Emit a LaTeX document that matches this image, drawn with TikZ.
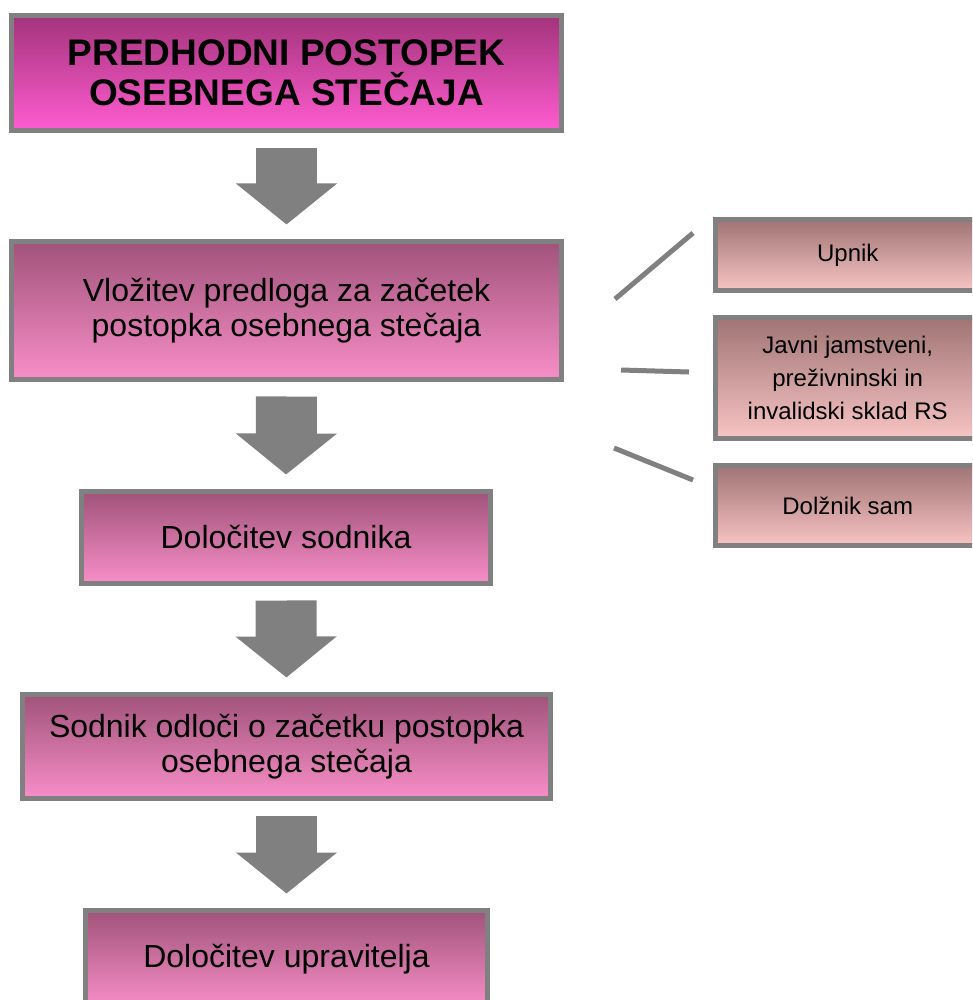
\documentclass[tikz,border=0pt]{standalone}
\usepackage{fontspec}
\setmainfont{Liberation Sans}
\usetikzlibrary{arrows.meta}
\definecolor{edgegray}{HTML}{808080}
\definecolor{titletop}{HTML}{A3337B}
\definecolor{titlebot}{HTML}{FF5CD0}
\definecolor{steptop}{HTML}{A0537A}
\definecolor{stepbot}{HTML}{F88EC8}
\definecolor{sidetop}{HTML}{A07474}
\definecolor{sidebot}{HTML}{F8C4C4}

\begin{document}
\begin{tikzpicture}[x=1pt,y=-1pt,
  framebox/.style={rectangle,draw=edgegray,line width=5pt,inner sep=0pt,align=center},
  titlebox/.style={framebox,top color=titletop,bottom color=titlebot,
    font=\bfseries\fontsize{37}{40}\selectfont},
  stepbox/.style={framebox,top color=steptop,bottom color=stepbot,
    font=\fontsize{32}{35}\selectfont},
  sidebox/.style={framebox,top color=sidetop,bottom color=sidebot,
    minimum width=264.5,font=\fontsize{24}{33}\selectfont},
  bigarrow/.style={draw=edgegray,line width=61pt,-{Triangle[length=41pt,width=99pt]},
    shorten <=14.5pt,shorten >=14.5pt},
  link/.style={draw=edgegray,line width=5pt}]
\useasboundingbox (0,0) rectangle (972,1000);
\clip (0,0) rectangle (972,1000);
\node[titlebox,minimum width=550,minimum height=115.5] (pre) at (286.5,73) {PREDHODNI POSTOPEK\\OSEBNEGA STEČAJA};
\node[stepbox,minimum width=550,minimum height=138] (vlo) at (286.5,310.5) {Vložitev predloga za začetek\\postopka osebnega stečaja};
\node[stepbox,minimum width=409,minimum height=92] (sod) at (286,537.5) {Določitev sodnika};
\node[stepbox,minimum width=528,minimum height=104] (odl) at (286.5,746.5) {Sodnik odloči o začetku postopka\\osebnega stečaja};
\node[stepbox,minimum width=402,minimum height=97] (upr) at (286.5,959) {Določitev upravitelja};
\node[sidebox,minimum height=71] (upn) at (847.75,255) {Upnik};
\node[sidebox,minimum height=121] (jam) at (847.75,378) {Javni jamstveni,\\preživninski in\\invalidski sklad RS};
\node[sidebox,minimum height=80] (dol) at (847.75,505.5) {Dolžnik sam};
\draw[bigarrow] (pre.south) -- (vlo.north);
\draw[bigarrow] (vlo.south) -- (sod.north);
\draw[bigarrow] (sod.south) -- (odl.north);
\draw[bigarrow] (odl.south) -- (upr.north);
\coordinate (l1a) at (615,299);
\coordinate (l1b) at (693,233);
\coordinate (l2a) at (621,370);
\coordinate (l2b) at (689,372);
\coordinate (l3a) at (614,448);
\coordinate (l3b) at (693,480);
\draw[link] (l1a) -- (l1b);
\draw[link] (l2a) -- (l2b);
\draw[link] (l3a) -- (l3b);
\end{tikzpicture}
\end{document}
